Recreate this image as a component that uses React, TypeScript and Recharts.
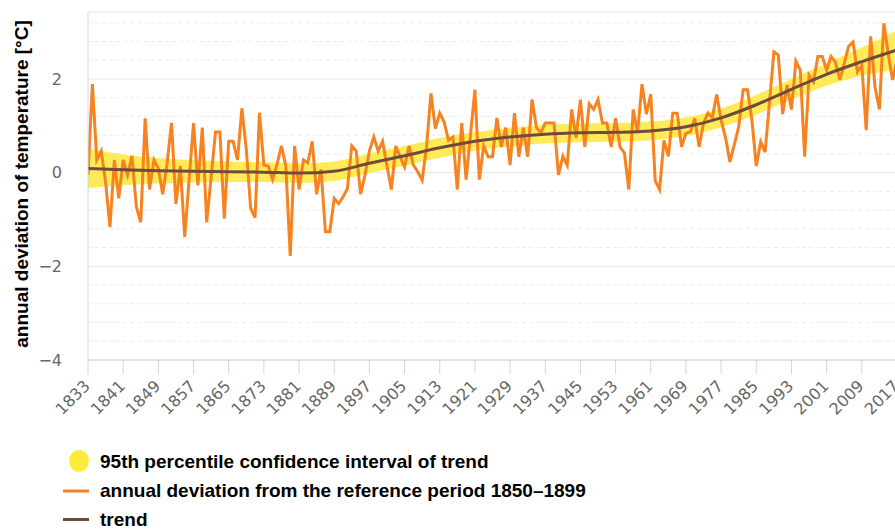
import React from 'react';
import { ComposedChart, Line, Area, XAxis, YAxis, CartesianGrid } from 'recharts';

// annual deviation from 1850-1899 mean, one value per year starting 1833
const firstYear = 1833;
const annualDeviation = [
  -0.05, 1.89, 0.27, 0.46, -0.2, -1.16, 0.27, -0.55, 0.27, -0.05,
  0.36, -0.73, -1.06, 1.16, -0.36, 0.27, 0.09, -0.46, 0.2, 1.06,
  -0.67, 0.14, -1.37, -0.15, 1.06, -0.27, 0.96, -1.06, -0.1, 0.87,
  0.87, -0.98, 0.67, 0.67, 0.27, 1.37, 0.5, -0.76, -0.96, 1.28,
  0.16, 0.14, -0.15, 0.18, 0.57, 0.14, -1.78, 0.57, -0.36, 0.27,
  0.21, 0.67, -0.46, 0.07, -1.26, -1.26, -0.55, -0.66, -0.52, -0.34,
  0.57, 0.46, -0.46, -0.05, 0.46, 0.76, 0.46, 0.67, 0.15, -0.36,
  0.57, 0.34, 0.12, 0.57, 0.16, 0.02, -0.16, 0.55, 1.69, 0.94,
  1.27, 1.08, 0.69, 0.76, -0.36, 1.06, -0.15, 0.81, 1.77, -0.15,
  0.57, 0.34, 0.34, 1.17, 0.55, 0.96, 0.16, 1.27, 0.34, 0.96,
  0.34, 1.56, 0.96, 0.85, 1.06, 1.06, 1.06, -0.05, 0.35, 0.16,
  1.35, 0.75, 1.56, 0.55, 1.47, 1.35, 1.56, 1.06, 1.06, 0.55,
  1.16, 0.55, 0.42, -0.36, 1.35, 0.85, 1.89, 1.25, 1.67, -0.17,
  -0.36, 0.69, 0.35, 1.27, 1.27, 0.55, 0.84, 0.87, 1.16, 0.55,
  1.06, 1.27, 1.18, 1.67, 1.12, 0.75, 0.23, 0.6, 0.98, 1.77,
  1.77, 1.12, 0.14, 0.66, 0.44, 1.5, 2.58, 2.51, 1.25, 1.87,
  1.35, 2.38, 2.19, 0.34, 2.08, 1.94, 2.48, 2.48, 2.19, 2.48,
  2.36, 1.98, 2.33, 2.7, 2.79, 2.15, 2.29, 0.91, 2.91, 1.83,
  1.35, 3.19, 2.54, 1.98, 2.4,
];

// smoothed trend and its 95% band, read at every tick year
const trendYears = [
  1833, 1841, 1849, 1857, 1865, 1873, 1881, 1889, 1897, 1905, 1913, 1921,
  1929, 1937, 1945, 1953, 1961, 1969, 1977, 1985, 1993, 2001, 2009, 2017,
];
const trendValues = [
  0.09, 0.06, 0.04, 0.03, 0.02, 0.01, -0.01, 0.03, 0.2, 0.36, 0.53, 0.67,
  0.76, 0.82, 0.85, 0.86, 0.89, 0.98, 1.17, 1.45, 1.78, 2.1, 2.37, 2.62,
];
const bandLow = [
  -0.33, -0.27, -0.23, -0.21, -0.2, -0.2, -0.22, -0.18, -0.01, 0.15, 0.32, 0.47,
  0.56, 0.62, 0.65, 0.66, 0.69, 0.78, 0.97, 1.24, 1.56, 1.86, 2.07, 2.2,
];
const bandHigh = [
  0.51, 0.39, 0.31, 0.27, 0.24, 0.22, 0.2, 0.24, 0.41, 0.57, 0.74, 0.87,
  0.96, 1.02, 1.05, 1.06, 1.09, 1.18, 1.37, 1.66, 2.0, 2.34, 2.67, 3.04,
];

const xTicks = [
  1833, 1841, 1849, 1857, 1865, 1873, 1881, 1889, 1897, 1905, 1913, 1921,
  1929, 1937, 1945, 1953, 1961, 1969, 1977, 1985, 1993, 2001, 2009, 2017,
];
const yTicks = [-4, -2, 0, 2];
const minorTicks = [-3.6, -3.2, -2.8, -2.4, -1.6, -1.2, -0.8, -0.4, 0.4, 0.8, 1.2, 1.6, 2.4, 2.8, 3.2];

const annualRows = annualDeviation.map((v, i) => ({ year: firstYear + i, value: v }));
const trendRows = trendYears.map((y, i) => ({
  year: y,
  trend: trendValues[i],
  band: [bandLow[i], bandHigh[i]],
}));

const tickFont = 'DejaVu Sans, sans-serif';
const boldFont = '"Liberation Sans", Arial, sans-serif';

const YearTick = (props: any) => {
  const { x, y, payload } = props;
  const tx = x + 3;
  const ty = y + 13;
  return (
    <text
      x={tx}
      y={ty}
      transform={`rotate(-45, ${tx}, ${ty})`}
      textAnchor="end"
      fill="#666666"
      fontSize={16}
      fontFamily={tickFont}
    >
      {payload.value}
    </text>
  );
};

const App: React.FC = () => {
  return (
    <div style={{ position: 'absolute', left: 0, top: 0, width: 895, height: 530, overflow: 'hidden', background: '#fff' }}>
      <div style={{ position: 'absolute', left: 0, top: 0 }}>
        <ComposedChart width={930} height={440} margin={{ top: 12, right: 33, bottom: 0, left: 0 }}>
          <CartesianGrid yAxisId="minor" vertical={false} stroke="#ececec" strokeDasharray="4 3" />
          <CartesianGrid vertical={false} stroke="#e6e6e6" />
          <XAxis
            dataKey="year"
            type="number"
            domain={[1833, 2017]}
            ticks={xTicks}
            interval={0}
            allowDataOverflow
            stroke="#ccd6eb"
            tickSize={14}
            tickMargin={0}
            tick={<YearTick />}
            height={80}
          />
          <YAxis
            type="number"
            domain={[-4, 3.43]}
            ticks={yTicks}
            interval={0}
            allowDataOverflow
            width={88}
            axisLine={{ stroke: '#ccd6eb' }}
            tickLine={false}
            tickSize={0}
            tickMargin={26}
            tick={{ fill: '#666666', fontSize: 16, fontFamily: tickFont }}
            tickFormatter={(v: number) => String(v).replace('-', '\u2212')}
          />
          <YAxis yAxisId="minor" type="number" domain={[-4, 3.43]} ticks={minorTicks} interval={0} allowDataOverflow hide />
          <Area
            data={trendRows}
            dataKey="band"
            type="monotone"
            stroke="none"
            fill="#ffe83a"
            fillOpacity={0.85}
            isAnimationActive={false}
            activeDot={false}
          />
          <Line
            data={annualRows}
            dataKey="value"
            type="linear"
            stroke="#f68220"
            strokeWidth={3}
            dot={false}
            activeDot={false}
            isAnimationActive={false}
          />
          <Line
            data={trendRows}
            dataKey="trend"
            type="monotone"
            stroke="#6d4c3d"
            strokeWidth={3}
            dot={false}
            activeDot={false}
            isAnimationActive={false}
          />
        </ComposedChart>
      </div>
      <svg width={895} height={530} style={{ position: 'absolute', left: 0, top: 0, pointerEvents: 'none' }}>
        <text
          x={28}
          y={184}
          transform="rotate(-90, 28, 184)"
          textAnchor="middle"
          fontFamily={boldFont}
          fontWeight="bold"
          fontSize={19}
          fill="#000"
        >
          annual deviation of temperature [°C]
        </text>
        <ellipse cx={79} cy={461} rx={10} ry={11} fill="#ffeb3b" />
        <text x={100} y={467.5} fontFamily={boldFont} fontWeight="bold" fontSize={19} fill="#000">
          95th percentile confidence interval of trend
        </text>
        <line x1={63} x2={89} y1={491} y2={491} stroke="#f68220" strokeWidth={3} />
        <text x={100} y={497} fontFamily={boldFont} fontWeight="bold" fontSize={19} fill="#000">
          annual deviation from the reference period 1850–1899
        </text>
        <line x1={63} x2={89} y1={519.5} y2={519.5} stroke="#6d4c3d" strokeWidth={3} />
        <text x={100} y={525.5} fontFamily={boldFont} fontWeight="bold" fontSize={19} fill="#000">
          trend
        </text>
      </svg>
    </div>
  );
};

export default App;
